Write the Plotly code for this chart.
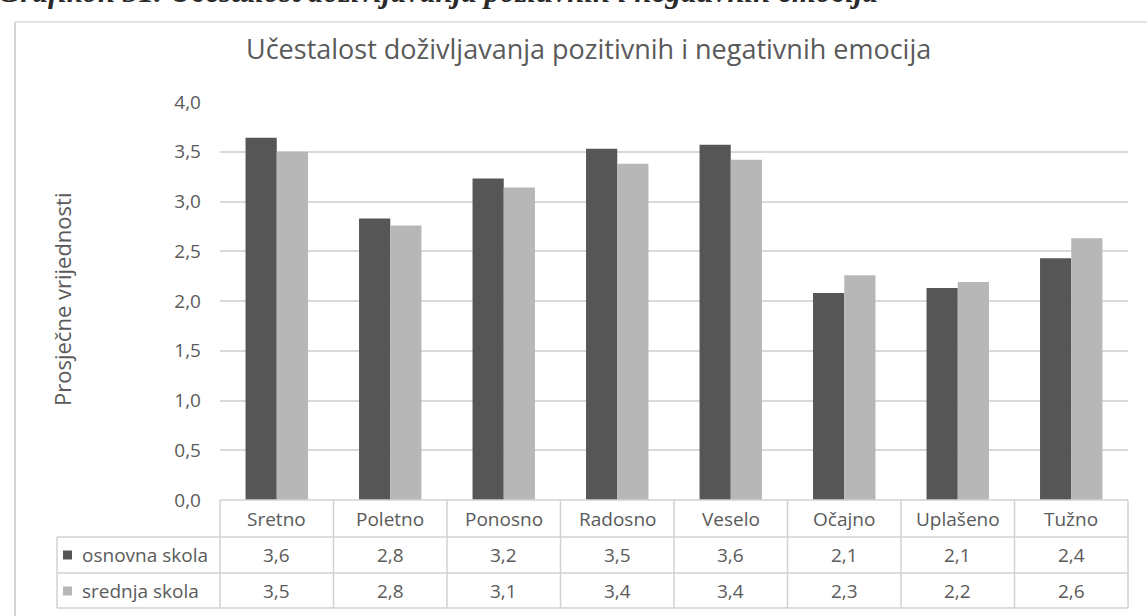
import plotly.graph_objects as go

categories = ["Sretno", "Poletno", "Ponosno", "Radosno", "Veselo", "Očajno", "Uplašeno", "Tužno"]
osnovna = [3.64, 2.83, 3.23, 3.53, 3.57, 2.08, 2.13, 2.43]
srednja = [3.50, 2.76, 3.14, 3.38, 3.42, 2.26, 2.19, 2.63]
series_names = ["osnovna skola", "srednja skola"]
y_ticks = [0, 0.5, 1.0, 1.5, 2.0, 2.5, 3.0, 3.5, 4.0]

title = "Učestalost doživljavanja pozitivnih i negativnih emocija"
heading = "Grafikon 31. Učestalost doživljavanja pozitivnih i negativnih emocija"
y_title = "Prosječne vrijednosti"

DARK = "#565656"
LIGHT = "#b7b7b7"
TXT = "#5a5a5a"
LINE = "#d2d2d2"
FONT = "Open Sans"
TS = 19  # table / tick text size

W, H = 1147, 616
L, R, T, B = 220, 19, 102, 116
PW = W - L - R
PH = H - T - B


def px(x):
    return (x - L) / PW


def py(y):
    return (H - B - y) / PH


fig = go.Figure()
fig.add_trace(go.Bar(x=categories, y=osnovna, name=series_names[0], marker_color=DARK,
                     marker_line_width=0))
fig.add_trace(go.Bar(x=categories, y=srednja, name=series_names[1], marker_color=LIGHT,
                     marker_line_width=0))

fmt = lambda v: f"{v:.1f}".replace(".", ",")

ann = []
shapes = []
row_cat = py(519)
row_a = py(555)
row_b = py(591)
for i, c in enumerate(categories):
    for yy, txt in [(row_cat, c), (row_a, fmt(osnovna[i])), (row_b, fmt(srednja[i]))]:
        ann.append(dict(x=c, y=yy, xref="x", yref="paper", text=txt, showarrow=False,
                        xanchor="center", yanchor="middle",
                        font=dict(family=FONT, size=TS, color=TXT)))

# legend keys in table
for name, col, yy in [(series_names[0], DARK, 555), (series_names[1], LIGHT, 591)]:
    shapes.append(dict(type="rect", xref="paper", yref="paper", x0=px(63), x1=px(72),
                       y0=py(yy + 4.5), y1=py(yy - 4.5), fillcolor=col, line_width=0))
    ann.append(dict(x=px(80), y=py(yy), xref="paper", yref="paper", text=name, showarrow=False,
                    xanchor="left", yanchor="middle",
                    font=dict(family=FONT, size=TS, color=TXT)))

# table lines
n = len(categories)
for k in range(n + 1):
    shapes.append(dict(type="line", xref="paper", yref="paper", x0=k / n, x1=k / n,
                       y0=0, y1=py(608), line=dict(color=LINE, width=1.5)))
for yy, x0 in [(500, 0), (537, px(57)), (573, px(57)), (608, px(57))]:
    shapes.append(dict(type="line", xref="paper", yref="paper", x0=x0, x1=1,
                       y0=py(yy), y1=py(yy), line=dict(color=LINE, width=1.5)))
shapes.append(dict(type="line", xref="paper", yref="paper", x0=px(57), x1=px(57),
                   y0=py(537), y1=py(608), line=dict(color=LINE, width=1.5)))

# outer chart border (left and top)
shapes.append(dict(type="line", xref="paper", yref="paper", x0=px(15), x1=px(15),
                   y0=py(22), y1=py(640), line=dict(color="#d4d4d4", width=2)))
shapes.append(dict(type="line", xref="paper", yref="paper", x0=px(15), x1=px(1160),
                   y0=py(22), y1=py(22), line=dict(color="#e2e2e2", width=2)))

# chart title
ann.append(dict(x=px(588), y=py(49), xref="paper", yref="paper", text=title, showarrow=False,
                xanchor="center", yanchor="middle",
                font=dict(family=FONT, size=27, color=TXT)))
# y-axis title
ann.append(dict(x=px(62), y=py(300), xref="paper", yref="paper", text=y_title, showarrow=False,
                xanchor="center", yanchor="middle", textangle=-90,
                font=dict(family=FONT, size=22, color=TXT)))
# cropped document heading
ann.append(dict(x=px(-4), y=py(11), xref="paper", yref="paper", xanchor="left", yanchor="bottom",
                text="<b><i>" + heading + "</i></b>", showarrow=False,
                font=dict(family="Liberation Serif", size=31, color="#2a2a2a")))

fig.update_layout(
    width=W, height=H,
    margin=dict(l=L, r=R, t=T, b=B),
    paper_bgcolor="white", plot_bgcolor="white",
    separators=",.",
    barmode="group", bargap=0.45, bargroupgap=0.0,
    showlegend=False,
    annotations=ann, shapes=shapes,
    xaxis=dict(showticklabels=False, ticks="", showgrid=False, showline=False, zeroline=False),
    yaxis=dict(range=[0, 4], tickvals=y_ticks, tickformat=".1f", showgrid=True,
               gridcolor="#d9d9d9", gridwidth=1.5, zeroline=False, showline=False,
               ticks="", ticklabelstandoff=18,
               tickfont=dict(family=FONT, size=TS, color=TXT)),
)

fig.write_html("out.html", config={"displayModeBar": False},
               post_script="document.body.style.margin='0';document.body.style.overflow='hidden';")
